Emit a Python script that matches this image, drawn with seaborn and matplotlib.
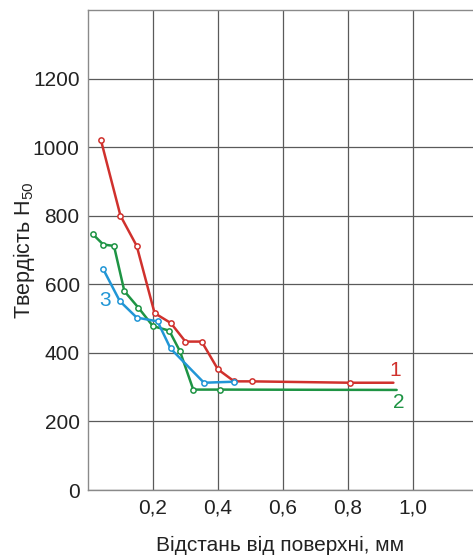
import pandas as pd
import seaborn as sns
import matplotlib.pyplot as plt
from matplotlib.ticker import FixedLocator, FixedFormatter

# -------------------------------------------------
# DATA
# -------------------------------------------------

depth_1 = [0.04, 0.10, 0.15, 0.205, 0.255, 0.30, 0.35, 0.40, 0.45, 0.505, 0.805, 0.94]
hard_1 = [1020, 800, 712, 516, 487, 433, 433, 352, 317, 317, 313, 313]

depth_2 = [0.015, 0.047, 0.08, 0.112, 0.155, 0.20, 0.25, 0.283, 0.324, 0.406, 0.95]
hard_2 = [746, 716, 712, 580, 532, 478, 465, 405, 293, 293, 292]

depth_3 = [0.047, 0.098, 0.15, 0.214, 0.254, 0.357, 0.45]
hard_3 = [644, 551, 503, 492, 413, 313, 316]

curve_labels = ["1", "2", "3"]
label_x = [0.945, 0.955, 0.052]
label_y = [348, 256, 553]

x_ticks = [0.2, 0.4, 0.6, 0.8, 1.0]
x_tick_labels = ["0,2", "0,4", "0,6", "0,8", "1,0"]
y_ticks = [0, 200, 400, 600, 800, 1000, 1200]

COLORS = ["#d0312d", "#1e9444", "#2196d6"]

# -------------------------------------------------
# STYLE
# -------------------------------------------------

sns.set_theme(style="white")
plt.rcParams["font.family"] = ["Liberation Sans", "DejaVu Sans"]
plt.rcParams["mathtext.fontset"] = "custom"
plt.rcParams["mathtext.rm"] = "Liberation Sans"
plt.rcParams["mathtext.it"] = "Liberation Sans"

fig = plt.figure(figsize=(4.73, 5.55), dpi=100)
ax = fig.add_axes([0.186, 0.117, 0.814, 0.865])

series = [
    (depth_1, hard_1, True),
    (depth_2, hard_2, True),
    (depth_3, hard_3, False),
]

for (xs, ys, open_end), color in zip(series, COLORS):
    marks = list(range(len(xs) - 1)) if open_end else list(range(len(xs)))
    sns.lineplot(
        x=xs, y=ys, ax=ax, color=color, linewidth=1.8,
        marker="o", markersize=3.8, markerfacecolor="white",
        markeredgecolor=color, markeredgewidth=1.1,
        markevery=marks, sort=False, estimator=None, zorder=3
    )

for text, tx, ty, color in zip(curve_labels, label_x, label_y, COLORS):
    ax.text(tx, ty, text, color=color, fontsize=15, ha="center", va="center")

ax.set_xlim(0, 1.185)
ax.set_ylim(0, 1400)

ax.xaxis.set_major_locator(FixedLocator(x_ticks))
ax.xaxis.set_major_formatter(FixedFormatter(x_tick_labels))
ax.set_yticks(y_ticks)

ax.grid(True, color="#5a5a5a", linewidth=0.9)
ax.set_axisbelow(True)

for side in ["left", "top", "bottom"]:
    ax.spines[side].set_color("#8a8a8a")
    ax.spines[side].set_linewidth(1.0)
ax.spines["right"].set_visible(False)

ax.tick_params(axis="both", length=0, labelsize=15, colors="#222222")
ax.tick_params(axis="x", pad=6)
ax.tick_params(axis="y", pad=6)

ax.set_xlabel("Відстань від поверхні, мм", fontsize=15, color="#222222", labelpad=13)
ax.set_ylabel("Твердість H$_{50}$", fontsize=15.5, color="#222222", labelpad=-3)

plt.savefig("out.png", dpi=100)
plt.close()
